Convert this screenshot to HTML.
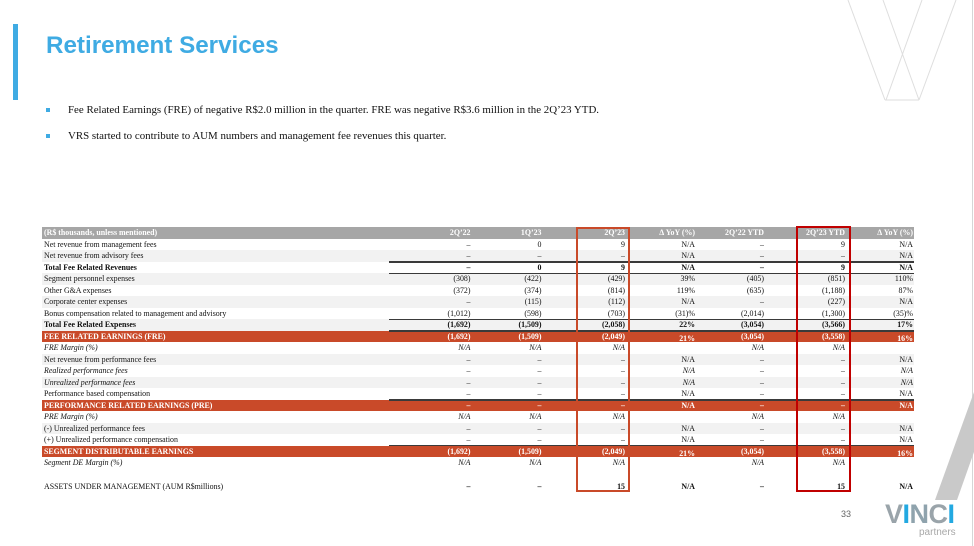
<!DOCTYPE html>
<html><head><meta charset="utf-8">
<style>
html,body{margin:0;padding:0;}
body{width:974px;height:546px;position:relative;overflow:hidden;background:#fff;font-family:"Liberation Serif",serif;}
.bar{position:absolute;left:13px;top:24px;width:5px;height:76px;background:#3fabe3;}
.title{position:absolute;left:46px;top:31px;font-family:"Liberation Sans",sans-serif;font-weight:bold;font-size:24.2px;color:#3fabe3;line-height:30px;white-space:nowrap;}
.bul{position:absolute;left:68px;font-size:10.9px;color:#111;white-space:nowrap;line-height:14px;}
.sq{position:absolute;left:46px;width:4px;height:4px;background:#3fabe3;}
.r{position:absolute;left:42px;width:872px;height:11.5px;font-size:7.9px;line-height:11.5px;color:#111;white-space:nowrap;}
.r span{position:absolute;top:0;}
.l{left:2px;}
.c1{right:443.5px}.c2{right:372.5px}.c3{right:289px}.c4{right:219px}.c5{right:150px}.c6{right:69px}.c7{right:1px}
.g{background:#f2f2f2;}
.h{background:#a6a6a6;color:#fff;font-weight:bold;}
.o{background:#c94a29;color:#fff;font-weight:bold;}
.b{font-weight:bold;}
.i{font-style:italic;}
.dn{top:2px !important;}
.ln{position:absolute;left:389px;width:525px;height:1.5px;background:#3a3a3a;}
.box{position:absolute;box-sizing:border-box;}
</style></head><body>
<div class="bar"></div>
<div class="title">Retirement Services</div>
<div class="sq" style="top:108px"></div>
<div class="bul" style="top:103px">Fee Related Earnings (FRE) of negative R$2.0 million in the quarter. FRE was negative R$3.6 million in the 2Q’23 YTD.</div>
<div class="sq" style="top:134px"></div>
<div class="bul" style="top:129px">VRS started to contribute to AUM numbers and management fee revenues this quarter.</div>

<svg style="position:absolute;left:0;top:0" width="974" height="546">
<g stroke="#dedede" stroke-width="1" fill="none">
<line x1="848" y1="0" x2="885" y2="100"/>
<line x1="883" y1="0" x2="919" y2="100"/>
<line x1="922" y1="0" x2="886" y2="100"/>
<line x1="956" y1="0" x2="919" y2="100"/>
<line x1="885" y1="100" x2="919" y2="100"/>
</g>
<line x1="972.5" y1="0" x2="972.5" y2="546" stroke="#d6d6d6" stroke-width="1"/>
<polygon points="974,392 974,452 957,500 935,500" fill="#c9c9c9"/>
</svg>

<div class="r h" style="top:227px"><span class="l">(R$ thousands, unless mentioned)</span><span class="c1">2Q’22</span><span class="c2">1Q’23</span><span class="c3">2Q’23</span><span class="c4">Δ YoY (%)</span><span class="c5">2Q’22 YTD</span><span class="c6">2Q’23 YTD</span><span class="c7">Δ YoY (%)</span></div>
<div class="r" style="top:238.5px"><span class="l">Net revenue from management fees</span><span class="c1">–</span><span class="c2">0</span><span class="c3">9</span><span class="c4">N/A</span><span class="c5">–</span><span class="c6">9</span><span class="c7">N/A</span></div>
<div class="r g" style="top:250px"><span class="l">Net revenue from advisory fees</span><span class="c1">–</span><span class="c2">–</span><span class="c3">–</span><span class="c4">N/A</span><span class="c5">–</span><span class="c6">–</span><span class="c7">N/A</span></div>
<div class="r b" style="top:261.5px"><span class="l">Total Fee Related Revenues</span><span class="c1">–</span><span class="c2">0</span><span class="c3">9</span><span class="c4">N/A</span><span class="c5">–</span><span class="c6">9</span><span class="c7">N/A</span></div>
<div class="r g" style="top:273px"><span class="l">Segment personnel expenses</span><span class="c1">(308)</span><span class="c2">(422)</span><span class="c3">(429)</span><span class="c4">39%</span><span class="c5">(405)</span><span class="c6">(851)</span><span class="c7">110%</span></div>
<div class="r" style="top:284.5px"><span class="l">Other G&amp;A expenses</span><span class="c1">(372)</span><span class="c2">(374)</span><span class="c3">(814)</span><span class="c4">119%</span><span class="c5">(635)</span><span class="c6">(1,188)</span><span class="c7">87%</span></div>
<div class="r g" style="top:296px"><span class="l">Corporate center expenses</span><span class="c1">–</span><span class="c2">(115)</span><span class="c3">(112)</span><span class="c4">N/A</span><span class="c5">–</span><span class="c6">(227)</span><span class="c7">N/A</span></div>
<div class="r" style="top:307.5px"><span class="l">Bonus compensation related to management and advisory</span><span class="c1">(1,012)</span><span class="c2">(598)</span><span class="c3">(703)</span><span class="c4">(31)%</span><span class="c5">(2,014)</span><span class="c6">(1,300)</span><span class="c7">(35)%</span></div>
<div class="r g b" style="top:319px"><span class="l">Total Fee Related Expenses</span><span class="c1">(1,692)</span><span class="c2">(1,509)</span><span class="c3">(2,058)</span><span class="c4">22%</span><span class="c5">(3,054)</span><span class="c6">(3,566)</span><span class="c7">17%</span></div>
<div class="r o" style="top:330.5px"><span class="l">FEE RELATED EARNINGS (FRE)</span><span class="c1">(1,692)</span><span class="c2">(1,509)</span><span class="c3">(2,049)</span><span class="c4 dn">21%</span><span class="c5">(3,054)</span><span class="c6">(3,558)</span><span class="c7 dn">16%</span></div>
<div class="r i" style="top:342px"><span class="l">FRE Margin (%)</span><span class="c1">N/A</span><span class="c2">N/A</span><span class="c3">N/A</span><span class="c5">N/A</span><span class="c6">N/A</span></div>
<div class="r g" style="top:353.5px"><span class="l">Net revenue from performance fees</span><span class="c1">–</span><span class="c2">–</span><span class="c3">–</span><span class="c4">N/A</span><span class="c5">–</span><span class="c6">–</span><span class="c7">N/A</span></div>
<div class="r" style="top:365px"><span class="l i">Realized performance fees</span><span class="c1">–</span><span class="c2">–</span><span class="c3">–</span><span class="c4 i">N/A</span><span class="c5">–</span><span class="c6">–</span><span class="c7 i">N/A</span></div>
<div class="r g" style="top:376.5px"><span class="l i">Unrealized performance fees</span><span class="c1">–</span><span class="c2">–</span><span class="c3">–</span><span class="c4 i">N/A</span><span class="c5">–</span><span class="c6">–</span><span class="c7 i">N/A</span></div>
<div class="r" style="top:388px"><span class="l">Performance based compensation</span><span class="c1">–</span><span class="c2">–</span><span class="c3">–</span><span class="c4">N/A</span><span class="c5">–</span><span class="c6">–</span><span class="c7">N/A</span></div>
<div class="r o" style="top:399.5px"><span class="l">PERFORMANCE RELATED EARNINGS (PRE)</span><span class="c1">–</span><span class="c2">–</span><span class="c3">–</span><span class="c4">N/A</span><span class="c5">–</span><span class="c6">–</span><span class="c7">N/A</span></div>
<div class="r i" style="top:411px"><span class="l">PRE Margin (%)</span><span class="c1">N/A</span><span class="c2">N/A</span><span class="c3">N/A</span><span class="c5">N/A</span><span class="c6">N/A</span></div>
<div class="r g" style="top:422.5px"><span class="l">(-) Unrealized performance fees</span><span class="c1">–</span><span class="c2">–</span><span class="c3">–</span><span class="c4">N/A</span><span class="c5">–</span><span class="c6">–</span><span class="c7">N/A</span></div>
<div class="r" style="top:434px"><span class="l">(+) Unrealized performance compensation</span><span class="c1">–</span><span class="c2">–</span><span class="c3">–</span><span class="c4">N/A</span><span class="c5">–</span><span class="c6">–</span><span class="c7">N/A</span></div>
<div class="r o" style="top:445.5px"><span class="l">SEGMENT DISTRIBUTABLE EARNINGS</span><span class="c1">(1,692)</span><span class="c2">(1,509)</span><span class="c3">(2,049)</span><span class="c4 dn">21%</span><span class="c5">(3,054)</span><span class="c6">(3,558)</span><span class="c7 dn">16%</span></div>
<div class="r i" style="top:457px"><span class="l">Segment DE Margin (%)</span><span class="c1">N/A</span><span class="c2">N/A</span><span class="c3">N/A</span><span class="c5">N/A</span><span class="c6">N/A</span></div>
<div class="r" style="top:480.5px"><span class="l">ASSETS UNDER MANAGEMENT (AUM R$millions)</span><span class="c1 b">–</span><span class="c2 b">–</span><span class="c3 b">15</span><span class="c4 b">N/A</span><span class="c5 b">–</span><span class="c6 b">15</span><span class="c7 b">N/A</span></div>

<div class="ln" style="top:261px"></div>
<div class="ln" style="top:272.5px"></div>
<div class="ln" style="top:318.5px"></div>
<div class="ln" style="top:330px"></div>
<div class="ln" style="top:399px"></div>
<div class="ln" style="top:444.5px"></div>

<div class="box" style="left:576px;top:227px;width:54px;height:265px;border:2px solid #c94a29;"></div>
<div class="box" style="left:796px;top:226px;width:55px;height:266px;border:2px solid #c00000;"></div>

<div style="position:absolute;left:841px;top:509px;font-family:'Liberation Sans',sans-serif;font-size:9px;color:#666;">33</div>
<div style="position:absolute;left:885px;top:499px;font-family:'Liberation Sans',sans-serif;font-weight:bold;font-size:27px;line-height:30px;letter-spacing:-0.5px;white-space:nowrap;">
<span style="color:#9aa4aa">V</span><span style="color:#23a9e1">I</span><span style="color:#8fa3ad">N</span><span style="color:#9aa4aa">C</span><span style="color:#23a9e1">I</span>
</div>
<div style="position:absolute;left:919px;top:527px;font-family:'Liberation Sans',sans-serif;font-size:10px;color:#a8a8a8;line-height:12px;">partners</div>
</body></html>
